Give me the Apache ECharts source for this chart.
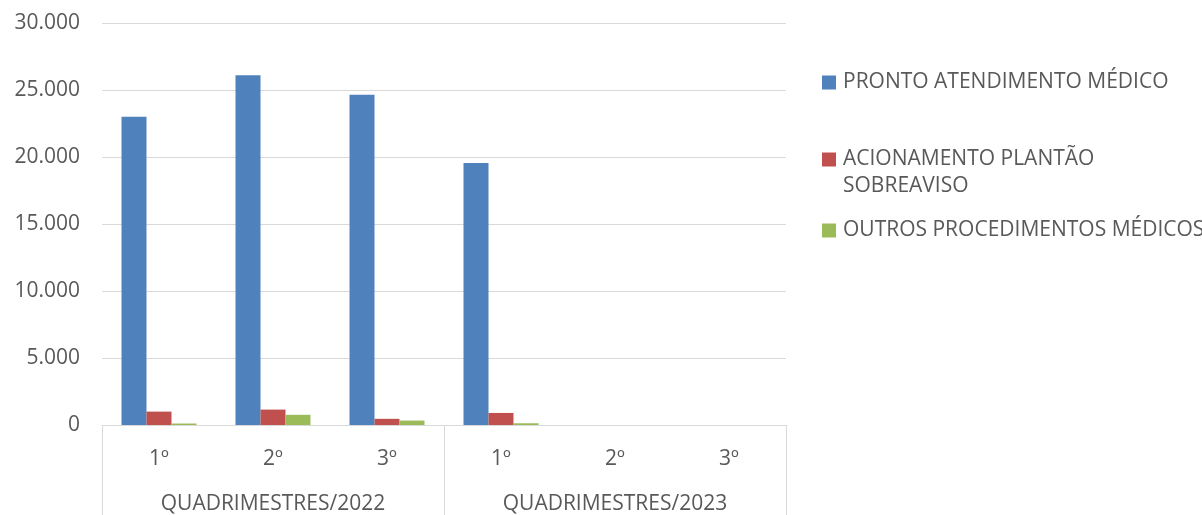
<!DOCTYPE html>
<html><head><meta charset="utf-8">
<script src="https://cdn.jsdelivr.net/npm/echarts@6/dist/echarts.min.js"></script>
<style>html,body{margin:0;padding:0;background:#fff}#c{width:1202px;height:515px}</style>
</head><body><div id="c"></div>
<script>
const categories = ['1º','2º','3º','1º','2º','3º'];
const groups = ['QUADRIMESTRES/2022','QUADRIMESTRES/2023'];
const seriesNames = ['PRONTO ATENDIMENTO MÉDICO','ACIONAMENTO PLANTÃO SOBREAVISO','OUTROS PROCEDIMENTOS MÉDICOS'];
const prontoAtendimento = [23000, 26100, 24650, 19550, null, null];
const acionamentoPlantao = [1000, 1150, 460, 900, null, null];
const outrosProcedimentos = [110, 760, 330, 130, null, null];
const yTicks = {min:0, max:30000, interval:5000};

const colors = ['#4F81BD','#C0504D','#9BBB59'];
const textColor = '#595959';
const font = 'Open Sans';
const fs = 21;
const chart = echarts.init(document.getElementById('c'));
function fmt(v){return String(v).replace(/\B(?=(\d{3})+(?!\d))/g,'.');}
const legendTops = [69, 119, 217];
chart.setOption({
  animation:false,
  grid:{left:102,right:416,top:23,bottom:89,containLabel:false},
  legend: seriesNames.map((n,i)=>({
    data:[n], left:822, top:legendTops[i], orient:'vertical', padding:0,
    itemWidth:14, itemHeight:14, icon:'rect', selectedMode:false,
    formatter: i===1 ? () => ' \nACIONAMENTO PLANTÃO\nSOBREAVISO' : undefined,
    textStyle:{color:textColor, fontSize:fs, fontFamily:font, lineHeight:27, padding:[0,0,0,2]}
  })),
  xAxis:[{
    type:'category', data:categories, gridIndex:0, position:'bottom',
    axisLine:{show:true,lineStyle:{color:'#d9d9d9',width:1}},
    axisTick:{show:false},
    axisLabel:{color:textColor,fontSize:fs,fontFamily:font,margin:24,interval:0}
  },{
    type:'category', data:groups, gridIndex:0, position:'bottom',
    axisLine:{show:false},
    axisTick:{show:true,length:90,interval:0,lineStyle:{color:'#d9d9d9'}},
    axisLabel:{color:textColor,fontSize:fs,fontFamily:font,margin:69,interval:0}
  }],
  yAxis:{
    type:'value', min:yTicks.min, max:yTicks.max, interval:yTicks.interval,
    axisLine:{show:false}, axisTick:{show:false},
    splitLine:{lineStyle:{color:'#d9d9d9',width:1}},
    axisLabel:{color:textColor,fontSize:fs,fontFamily:font,margin:22,formatter:fmt}
  },
  series:[
    {name:seriesNames[0],type:'bar',data:prontoAtendimento,itemStyle:{color:colors[0]},barWidth:25,barGap:'0%'},
    {name:seriesNames[1],type:'bar',data:acionamentoPlantao,itemStyle:{color:colors[1]},barWidth:25,barGap:'0%'},
    {name:seriesNames[2],type:'bar',data:outrosProcedimentos,itemStyle:{color:colors[2]},barWidth:25,barGap:'0%'}
  ]
});
</script></body></html>
